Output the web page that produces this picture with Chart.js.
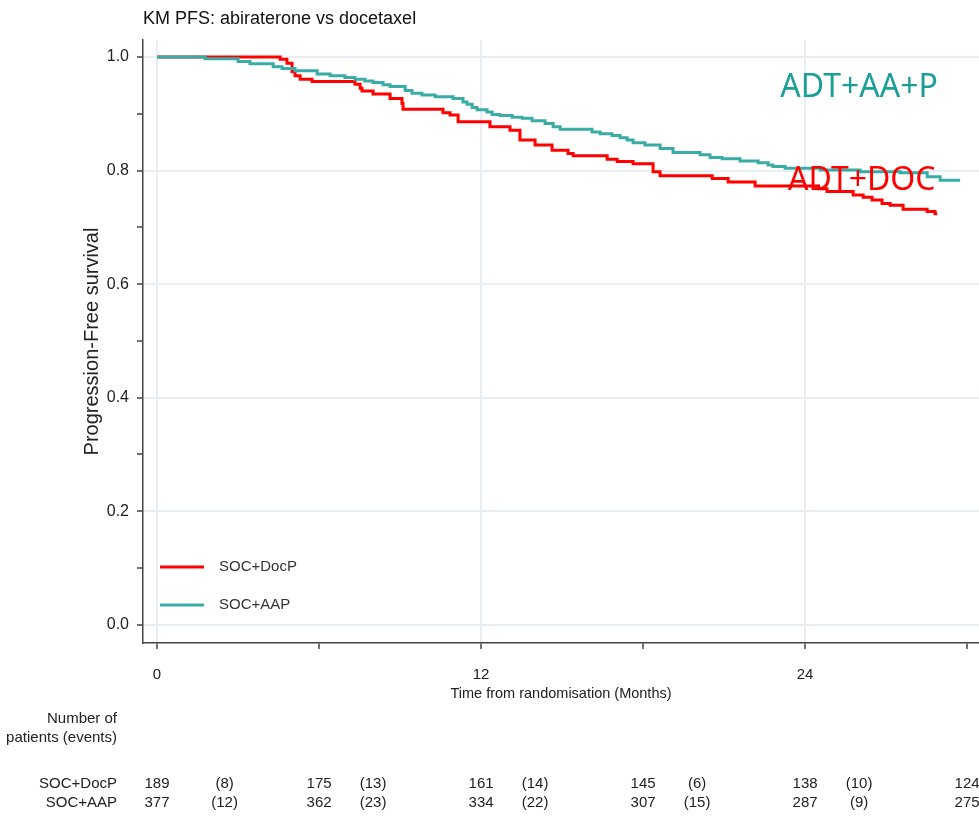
<!DOCTYPE html>
<html>
<head>
<meta charset="utf-8">
<title>KM PFS: abiraterone vs docetaxel</title>
<script src="https://cdn.jsdelivr.net/npm/chart.js@4.4.1/dist/chart.umd.min.js"></script>
<style>
  html, body { margin: 0; padding: 0; background: #fff; }
  #wrap { width: 979px; height: 816px; }
</style>
</head>
<body>
<div id="wrap"><canvas id="km" width="979" height="816"></canvas></div>
<script>
// KM steps: time of each drop (months) and survival after it
const docTimes = [0, 4.56, 4.81, 5.00, 5.11, 5.30, 5.74, 7.33, 7.52, 7.59, 8.0, 8.63, 9.07, 9.11, 10.59, 10.85,
    11.15, 12.33, 13.07, 13.44, 14.0, 14.63, 15.22, 15.41, 16.67, 17.04, 17.63, 18.37, 18.63, 20.56, 21.15, 22.15,
    24.5, 24.81, 25.78, 26.15, 26.48, 26.85, 27.15, 27.63, 28.52, 28.81, 28.89];
const docSurv = [1.0, 0.996, 0.989, 0.974, 0.967, 0.961, 0.957, 0.952, 0.945, 0.940, 0.935, 0.927, 0.918, 0.908, 0.902, 0.898,
    0.886, 0.877, 0.871, 0.854, 0.845, 0.836, 0.830, 0.826, 0.820, 0.816, 0.812, 0.798, 0.791, 0.786, 0.780, 0.773,
    0.768, 0.763, 0.757, 0.753, 0.748, 0.742, 0.739, 0.732, 0.728, 0.724, 0.724];

const aapTimes = [0, 1.78, 3.0, 3.44, 4.30, 4.63, 5.11, 5.93, 6.41, 6.96, 7.33, 7.70, 8.0, 8.37, 8.63, 9.19, 9.44, 9.81,
    10.30, 10.96, 11.33, 11.48, 11.67, 11.85, 12.22, 12.41, 12.70, 13.15, 13.52, 13.89, 14.37, 14.67, 14.93, 16.11,
    16.41, 16.85, 17.15, 17.41, 17.63, 18.07, 18.63, 19.11, 20.11, 20.48, 20.93, 21.59, 22.26, 22.63, 22.81, 23.26,
    24.56, 26.04, 27.52, 28.52, 29.0, 29.74];
const aapSurv = [1.0, 0.997, 0.992, 0.988, 0.983, 0.980, 0.976, 0.970, 0.967, 0.964, 0.961, 0.958, 0.955, 0.951, 0.948, 0.941, 0.936, 0.933,
    0.930, 0.927, 0.921, 0.917, 0.911, 0.907, 0.903, 0.899, 0.897, 0.894, 0.892, 0.888, 0.883, 0.877, 0.873, 0.868,
    0.865, 0.862, 0.858, 0.854, 0.849, 0.845, 0.839, 0.832, 0.828, 0.823, 0.821, 0.817, 0.814, 0.810, 0.807, 0.804,
    0.801, 0.798, 0.796, 0.789, 0.783, 0.783];

// axis ticks
const xTicks = [0, 6, 12, 18, 24, 30];
const xLabels = ['0', '', '12', '', '24', ''];
const xGrid = [0, 12, 24];
const yTicks = [0, 0.1, 0.2, 0.3, 0.4, 0.5, 0.6, 0.7, 0.8, 0.9, 1.0];
const yLabels = ['0.0', '', '0.2', '', '0.4', '', '0.6', '', '0.8', '', '1.0'];

// number at risk table
const riskTimes = [0, 6, 12, 18, 24, 30];
const riskDoc = [189, 175, 161, 145, 138, 124];
const riskAap = [377, 362, 334, 307, 287, 275];
const eventTimes = [2.5, 8, 14, 20, 26];
const eventsDoc = [8, 13, 14, 6, 10];
const eventsAap = [12, 23, 22, 15, 9];

const RED = '#ff0000';
const TEAL = '#3aaca6';
const GRID = '#e8eef1';
const AXIS = '#444';
const SANS = "'Liberation Sans', Arial, sans-serif";

function toPoints(times, surv) {
    return times.map((t, i) => ({ x: t, y: surv[i] }));
}

// legend, arm labels and the at-risk table
const extras = {
    id: 'extras',
    afterDatasetsDraw(chart) {
        const { ctx, chartArea, scales: { x, y } } = chart;
        ctx.save();

        // legend inside the plot, lower left
        ctx.font = "15px " + SANS;
        ctx.textBaseline = 'middle';
        ctx.lineWidth = 3;
        chart.data.datasets.forEach((ds, i) => {
            const ly = chartArea.bottom - 76 + i * 38;
            ctx.strokeStyle = ds.borderColor;
            ctx.beginPath();
            ctx.moveTo(chartArea.left + 17, ly);
            ctx.lineTo(chartArea.left + 61, ly);
            ctx.stroke();
            ctx.fillStyle = '#333';
            ctx.fillText(ds.label, chartArea.left + 76, ly);
        });

        // arm labels
        ctx.font = "32px 'Noto Sans', 'Open Sans', sans-serif";
        ctx.textAlign = 'center';
        ctx.fillStyle = '#1a9e97';
        ctx.fillText('ADT+AA+P', x.getPixelForValue(26.0), y.getPixelForValue(0.945));
        ctx.fillStyle = RED;
        ctx.fillText('ADT+DOC', x.getPixelForValue(26.1), y.getPixelForValue(0.782));

        // number at risk
        ctx.font = "15px " + SANS;
        ctx.fillStyle = '#222';
        ctx.textAlign = 'right';
        ctx.fillText('Number of', 117, 719);
        ctx.fillText('patients (events)', 117, 738);
        ctx.fillText('SOC+DocP', 117, 784);
        ctx.fillText('SOC+AAP', 117, 803);
        ctx.textAlign = 'center';
        riskTimes.forEach((t, i) => {
            const px = x.getPixelForValue(t);
            ctx.fillText(String(riskDoc[i]), px, 784);
            ctx.fillText(String(riskAap[i]), px, 803);
        });
        eventTimes.forEach((t, i) => {
            const px = x.getPixelForValue(t);
            ctx.fillText('(' + eventsDoc[i] + ')', px, 784);
            ctx.fillText('(' + eventsAap[i] + ')', px, 803);
        });
        ctx.restore();
    }
};

new Chart(document.getElementById('km'), {
    type: 'line',
    data: {
        datasets: [{
            label: 'SOC+DocP',
            data: toPoints(docTimes, docSurv),
            borderColor: RED,
            borderWidth: 3,
            stepped: 'before',
            pointRadius: 0,
            fill: false,
            order: 1
        }, {
            label: 'SOC+AAP',
            data: toPoints(aapTimes, aapSurv),
            borderColor: TEAL,
            borderWidth: 3,
            stepped: 'before',
            pointRadius: 0,
            fill: false,
            order: 0  // drawn on top of the red curve
        }]
    },
    options: {
        responsive: false,
        animation: false,
        layout: { padding: { left: 78, right: 0, top: 4, bottom: 113 } },
        plugins: {
            legend: { display: false },
            tooltip: { enabled: false },
            title: {
                display: true,
                text: 'KM PFS: abiraterone vs docetaxel',
                align: 'start',
                fullSize: false,
                color: '#111',
                font: { family: SANS, size: 18, weight: 'normal' },
                padding: { top: 4, bottom: 10.4 }
            }
        },
        scales: {
            x: {
                type: 'linear',
                min: -0.52,
                max: 30.44,
                afterBuildTicks: s => { s.ticks = xTicks.map(v => ({ value: v })); },
                afterFit: s => {
                    s.height = 60;
                    s.paddingLeft = 0;
                    s.paddingRight = 0;
                },
                ticks: {
                    autoSkip: false,
                    maxRotation: 0,
                    padding: 17,
                    color: '#222',
                    font: { family: SANS, size: 15 },
                    callback: v => xLabels[xTicks.indexOf(v)]
                },
                grid: {
                    color: c => (c.tick && xGrid.includes(c.tick.value)) ? GRID : 'rgba(0,0,0,0)',
                    lineWidth: 2,
                    tickColor: AXIS,
                    tickWidth: 1.5,
                    tickLength: 6
                },
                border: { color: AXIS, width: 1.5 },
                title: {
                    display: true,
                    text: 'Time from randomisation (Months)',
                    color: '#222',
                    font: { family: SANS, size: 14.5 },
                    padding: { top: 4, bottom: 0 }
                }
            },
            y: {
                min: -0.032,
                max: 1.03,
                afterBuildTicks: s => { s.ticks = yTicks.map(v => ({ value: v })); },
                afterFit: s => {
                    s.width = 65;
                    s.paddingTop = 0;
                    s.paddingBottom = 0;
                },
                ticks: {
                    autoSkip: false,
                    padding: 8,
                    color: '#222',
                    font: { family: SANS, size: 16 },
                    callback: v => yLabels[yTicks.findIndex(t => Math.abs(t - v) < 1e-6)]
                },
                grid: {
                    color: c => (c.tick && Math.round(c.tick.value * 10) % 2 === 0) ? GRID : 'rgba(0,0,0,0)',
                    lineWidth: 2,
                    tickColor: AXIS,
                    tickWidth: 1.5,
                    tickLength: 6
                },
                border: { color: AXIS, width: 1.5 },
                title: {
                    display: true,
                    text: 'Progression-Free survival',
                    color: '#222',
                    font: { family: SANS, size: 20 },
                    padding: { top: 2, bottom: 0 }
                }
            }
        }
    },
    plugins: [extras]
});
</script>
</body>
</html>
